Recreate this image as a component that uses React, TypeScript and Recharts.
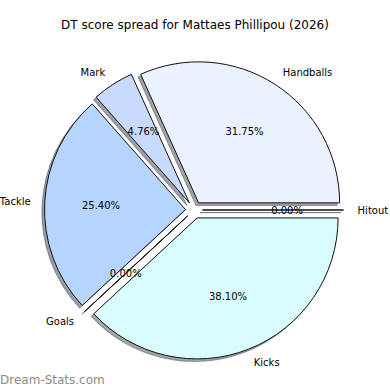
import { Pie, PieChart } from "recharts";

const categories = ["Handballs", "Mark", "Tackle", "Goals", "Kicks", "Hitout"];
const counts = [20, 3, 16, 0, 24, 0];
const sliceColors = ["#eaf1ff", "#c8dafe", "#b5d5ff", "#c8e6ff", "#d9fdff", "#e0e8ff"];

const chartTitle = "DT score spread for Mattaes Phillipou (2026)";
const watermark = "Dream-Stats.com";

const data = categories.map((name, i) => ({ name, value: counts[i], fill: sliceColors[i] }));

const CX = 194;
const CY = 210;
const R = 141;
const EXPLODE = 8.5;
const SHADOW_DX = -2.6;
const SHADOW_DY = 2.6;
const FONT = "'DejaVu Sans', sans-serif";

const rad = (deg: number) => (deg * Math.PI) / 180;

function wedgePath(cx: number, cy: number, r: number, a0: number, a1: number) {
  const x0 = cx + r * Math.cos(rad(a0));
  const y0 = cy - r * Math.sin(rad(a0));
  if (Math.abs(a1 - a0) < 1e-6) return `M${cx},${cy}L${x0},${y0}Z`;
  const x1 = cx + r * Math.cos(rad(a1));
  const y1 = cy - r * Math.sin(rad(a1));
  const large = a1 - a0 > 180 ? 1 : 0;
  return `M${cx},${cy}L${x0},${y0}A${r},${r} 0 ${large} 0 ${x1},${y1}Z`;
}

// matplotlib style shadow: 30% of the face colour at half alpha
function shadowColor(hex: string) {
  const n = parseInt(hex.slice(1), 16);
  const r = Math.round(((n >> 16) & 255) * 0.3);
  const g = Math.round(((n >> 8) & 255) * 0.3);
  const b = Math.round((n & 255) * 0.3);
  return `rgba(${r},${g},${b},0.5)`;
}

function explodedCenter(p: any) {
  return {
    x: p.cx + EXPLODE * Math.cos(rad(p.midAngle)),
    y: p.cy - EXPLODE * Math.sin(rad(p.midAngle)),
  };
}

function ShadowWedge(p: any) {
  const c = explodedCenter(p);
  const col = shadowColor(p.fill);
  return (
    <path
      d={wedgePath(c.x + SHADOW_DX, c.y + SHADOW_DY, p.outerRadius, p.startAngle, p.endAngle)}
      fill={col}
      stroke={col}
      strokeWidth={1}
    />
  );
}

function Wedge(p: any) {
  const c = explodedCenter(p);
  return (
    <path
      d={wedgePath(c.x, c.y, p.outerRadius, p.startAngle, p.endAngle)}
      fill={p.fill}
      stroke="#111"
      strokeWidth={1}
    />
  );
}

function WedgeLabel(p: any) {
  const c = explodedCenter(p);
  const cos = Math.cos(rad(p.midAngle));
  const sin = Math.sin(rad(p.midAngle));
  const lx = c.x + 1.1 * p.outerRadius * cos;
  const ly = c.y - 1.1 * p.outerRadius * sin;
  const px = c.x + 0.6 * p.outerRadius * cos;
  const py = c.y - 0.6 * p.outerRadius * sin;
  return (
    <g>
      <text x={lx} y={ly} textAnchor={cos >= 0 ? "start" : "end"} dominantBaseline="central" fontSize={10} fontFamily={FONT} fill="#000">
        {p.name}
      </text>
      <text x={px} y={py} textAnchor="middle" dominantBaseline="central" fontSize={10} fontFamily={FONT} fill="#000">
        {(p.percent * 100).toFixed(2)}%
      </text>
    </g>
  );
}

export default function App() {
  return (
    <div style={{ position: "absolute", left: 0, top: 0, width: 390, height: 390, background: "#fff" }}>
      <PieChart width={390} height={390} margin={{ top: 0, right: 0, bottom: 0, left: 0 }}>
        <text x={195} y={25} textAnchor="middle" dominantBaseline="central" fontSize={12} fontFamily={FONT} fill="#000">
          {chartTitle}
        </text>
        <Pie
          data={data}
          dataKey="value"
          nameKey="name"
          cx={CX}
          cy={CY}
          outerRadius={R}
          startAngle={0}
          endAngle={360}
          shape={ShadowWedge}
          label={false}
          labelLine={false}
          isAnimationActive={false}
        />
        <Pie
          data={data}
          dataKey="value"
          nameKey="name"
          cx={CX}
          cy={CY}
          outerRadius={R}
          startAngle={0}
          endAngle={360}
          shape={Wedge}
          label={WedgeLabel}
          labelLine={false}
          isAnimationActive={false}
        />
        <text x={0} y={380} dominantBaseline="central" fontSize={12} fontFamily={FONT} fill="#8c8c8c">
          {watermark}
        </text>
      </PieChart>
    </div>
  );
}
